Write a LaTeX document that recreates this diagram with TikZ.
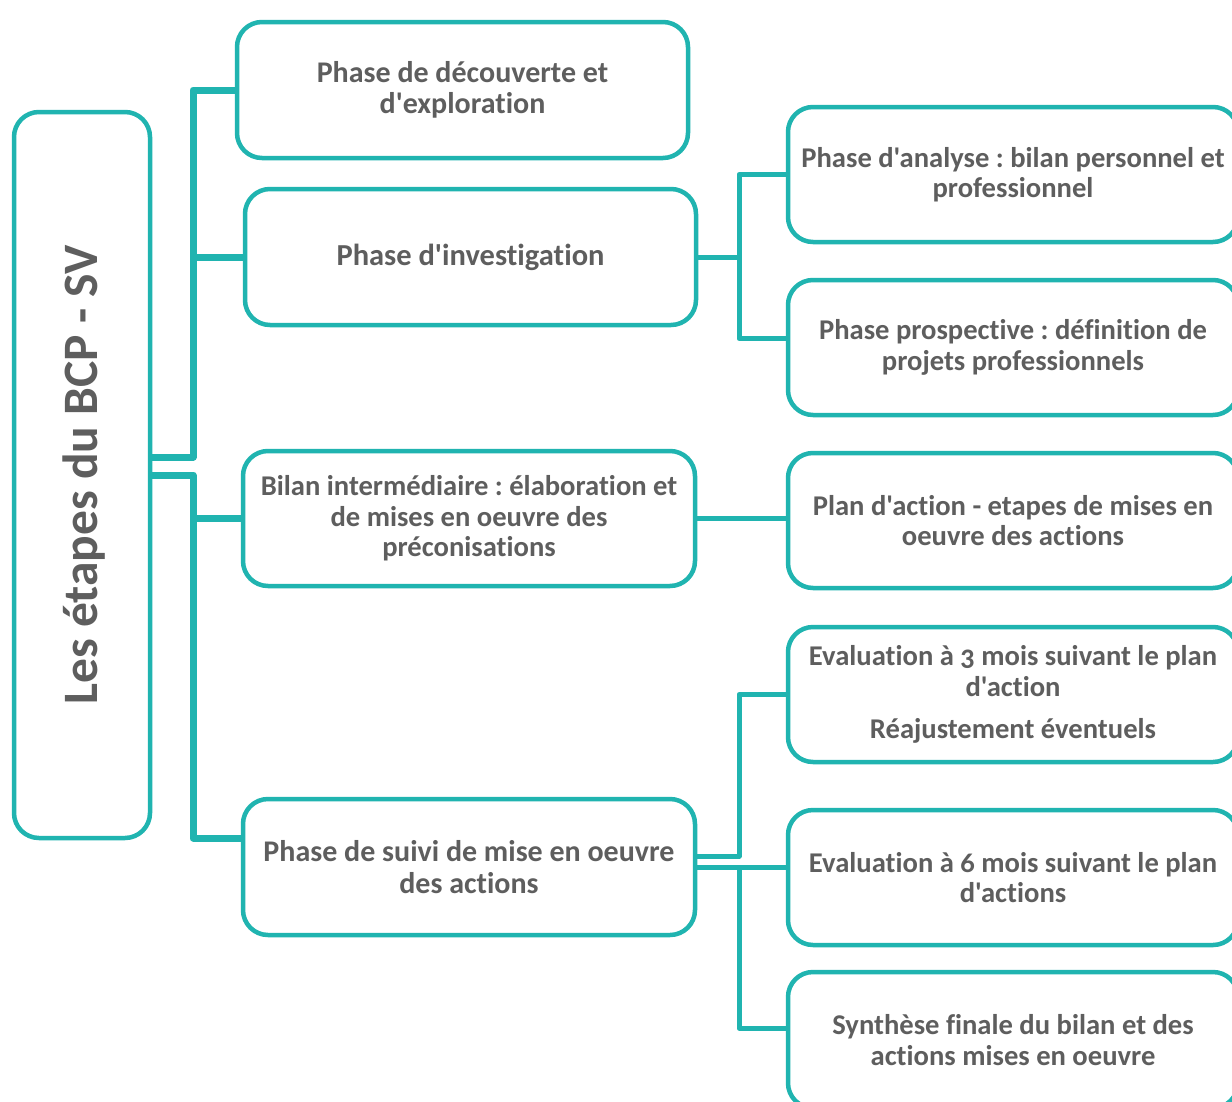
\documentclass[tikz,border=0pt]{standalone}
\usepackage{fontspec}
\setmainfont{Carlito}[Ligatures={TeXOff,NoCommon},Numbers=OldStyle]
\definecolor{tealc}{RGB}{32,180,176}
\definecolor{txtc}{RGB}{94,94,94}
\begin{document}
\frenchspacing
\begin{tikzpicture}[x=1pt,y=-1pt,
  box/.style={draw=tealc, line width=4.5pt, rounded corners=25pt, fill=white,
    text=txtc, align=center, inner sep=0pt,
    font=\fontsize{30}{31.5}\selectfont\bfseries},
  small/.style={font=\fontsize{28.6}{30.5}\selectfont\bfseries},
  lconn/.style={draw=tealc, line width=7pt, line join=round},
  rconn/.style={draw=tealc, line width=5pt, line join=round}]
\useasboundingbox (0,0) rectangle (1232,1101);
\clip (0,0) rectangle (1232,1101);
\fill[white] (0,0) rectangle (1232,1101);

% root
\node[box, minimum width=136pt, minimum height=726pt] (root) at (82,475) {};
\node[rotate=90, text=txtc, font=\fontsize{49.5}{52}\selectfont\bfseries] (roottxt) at (84,475) {Les étapes du BCP - SV};

% middle column
\node[box, minimum width=451pt, minimum height=136pt] (b1) at (462.5,90) {Phase de découverte et\\d'exploration};
\node[box, minimum width=451pt, minimum height=136pt, font=\fontsize{30.5}{32}\selectfont\bfseries] (b2) at (470.5,257) {Phase d'investigation};
\node[box, small, minimum width=452pt, minimum height=135pt] (b3) at (469,518.5) {Bilan intermédiaire : élaboration et\\de mises en oeuvre des\\préconisations};
\node[box, minimum width=452pt, minimum height=136pt] (b5) at (469,867) {Phase de suivi de mise en oeuvre\\des actions};

% right column
\node[box, small, minimum width=450pt, minimum height=135pt] (r1) at (1013,174.5) {Phase d'analyse : bilan personnel et\\professionnel};
\node[box, small, minimum width=450pt, minimum height=135pt] (r2) at (1013,347.5) {Phase prospective : définition de\\projets professionnels};
\node[box, small, minimum width=450pt, minimum height=135pt] (r3) at (1013,520.5) {Plan d'action - etapes de mises en\\oeuvre des actions};
\node[box, small, minimum width=450pt, minimum height=135pt] (r4) at (1013,694.5) {Evaluation à 3 mois suivant le plan\\d'action\\[12pt]Réajustement éventuels};
\node[box, small, minimum width=450pt, minimum height=135pt] (r5) at (1013,877.5) {Evaluation à 6 mois suivant le plan\\d'actions};
\node[box, small, minimum width=450pt, minimum height=136pt] (r6) at (1013,1040) {Synthèse finale du bilan et des\\actions mises en oeuvre};

\coordinate (jl) at (193,0);
\coordinate (jr) at (739,0);
\coordinate (rootup) at ([yshift=18pt]root.east);
\coordinate (b5in) at ([yshift=29pt]b5.west);
\coordinate (b5up) at ([yshift=11pt]b5.east);
\coordinate (r2in) at ([yshift=9pt]r2.west);
\coordinate (r6in) at ([yshift=12pt]r6.west);

% left connectors
\draw[lconn] (rootup) -| (jl |- b1.west) -- (b1.west);
\draw[lconn] (jl |- b2.west) -- (b2.west);
\draw[lconn] (root.east) -| (jl |- b5in) -- (b5in);
\draw[lconn] (jl |- b3.west) -- (b3.west);

% right connectors
\draw[rconn] (b2.east) -- (b2.east -| jr);
\draw[rconn] (r1.west) -| (jr |- r2in) -- (r2in);
\draw[rconn] (b3.east) -- (b3.east -| r3.west);
\draw[rconn] (b5up) -| (jr |- r4.west) -- (r4.west);
\draw[rconn] (b5.east) -- (b5.east -| r5.west);
\draw[rconn] (jr |- b5.east) |- (r6in);
\end{tikzpicture}
\end{document}
